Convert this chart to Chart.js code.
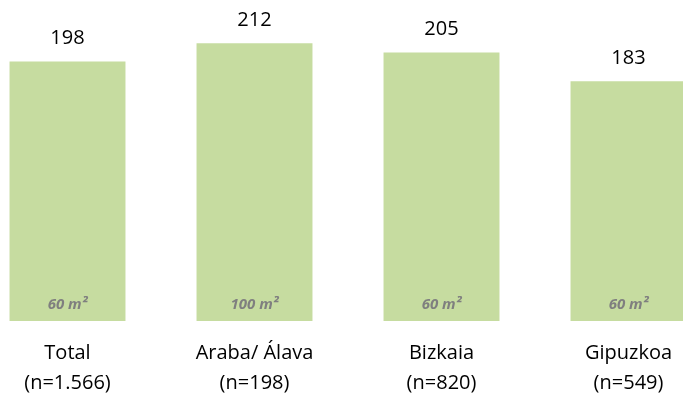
<!DOCTYPE html>
<html>
<head>
<meta charset="utf-8">
<script src="https://cdn.jsdelivr.net/npm/chart.js@4"></script>
<style>
  html, body { margin: 0; padding: 0; background: #fff; overflow: hidden; width: 683px; height: 393px; }
  #wrap { position: absolute; left: -26px; top: 0; width: 748px; height: 397px; }
</style>
</head>
<body>
<div id="wrap"><canvas id="chart"></canvas></div>
<script>
const categories = [
    ['Total', '(n=1.566)'],
    ['Araba/ Álava', '(n=198)'],
    ['Bizkaia', '(n=820)'],
    ['Gipuzkoa', '(n=549)']
];
const values = [198, 212, 205, 183];
const areaLabels = ['60 m²', '100 m²', '60 m²', '60 m²'];

const barColor = '#c6dca0';
const fontFamily = '"Open Sans", "Noto Sans", sans-serif';

// value on top of each bar and the surface label inside it
const barLabels = {
    id: 'barLabels',
    afterDatasetsDraw(chart) {
        const ctx = chart.ctx;
        const meta = chart.getDatasetMeta(0);
        ctx.save();
        ctx.textAlign = 'center';
        ctx.textBaseline = 'middle';
        meta.data.forEach((bar, i) => {
            ctx.fillStyle = '#000';
            ctx.font = '20px ' + fontFamily;
            ctx.fillText(values[i], bar.x, bar.y - 23);
            ctx.fillStyle = '#7f7f7f';
            ctx.font = 'italic bold 15px ' + fontFamily;
            ctx.fillText(areaLabels[i], bar.x, bar.base - 16);
        });
        ctx.restore();
    }
};

new Chart(document.getElementById('chart'), {
    type: 'bar',
    data: {
        labels: categories,
        datasets: [{
            data: values,
            backgroundColor: barColor,
            borderWidth: 0,
            categoryPercentage: 0.62,
            barPercentage: 1
        }]
    },
    options: {
        responsive: true,
        maintainAspectRatio: false,
        animation: false,
        layout: { padding: 0 },
        plugins: {
            legend: { display: false },
            tooltip: { enabled: false }
        },
        scales: {
            x: {
                grid: { display: false, drawTicks: false },
                border: { display: false },
                afterFit(scale) { scale.height = 76; },
                ticks: {
                    color: '#000',
                    padding: 17,
                    maxRotation: 0,
                    autoSkip: false,
                    font: { family: fontFamily, size: 20, lineHeight: 1.5 }
                }
            },
            y: {
                display: false,
                min: 0,
                max: 245
            }
        }
    },
    plugins: [barLabels]
});
</script>
</body>
</html>
